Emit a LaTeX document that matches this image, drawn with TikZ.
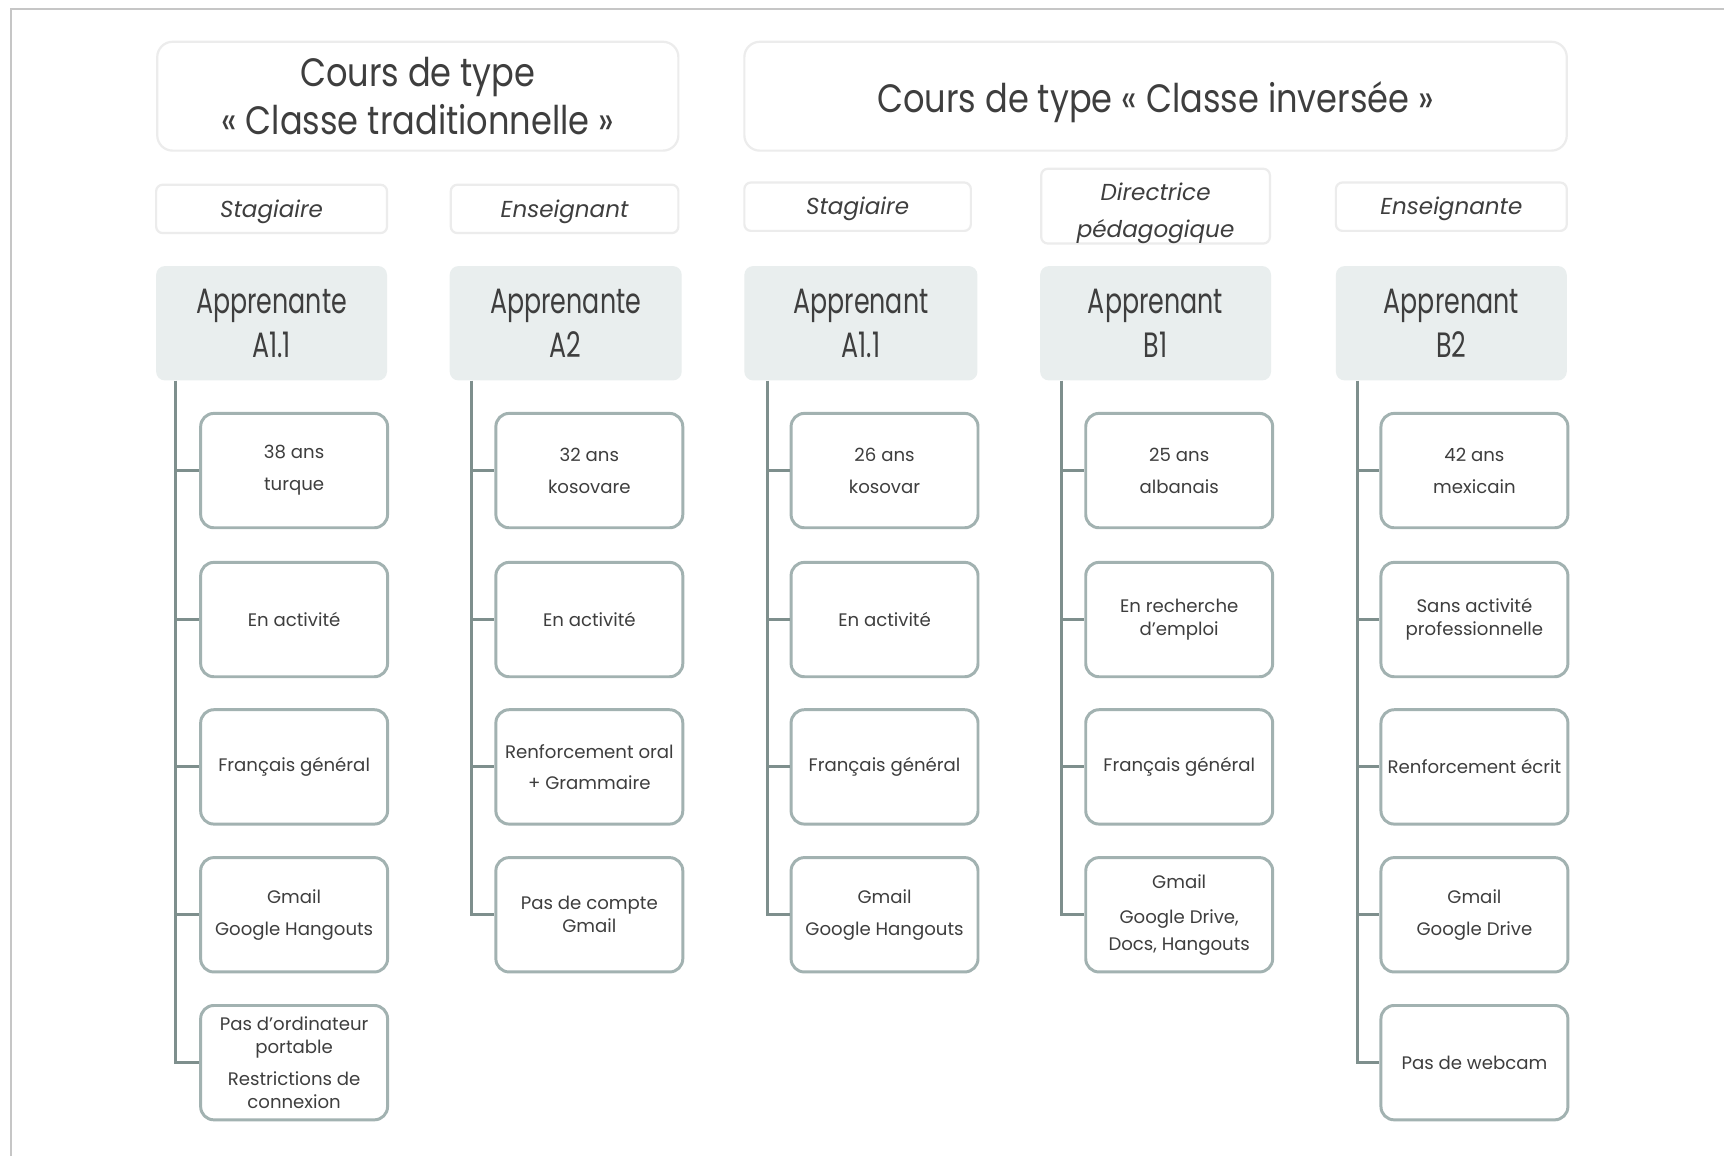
\documentclass[tikz,border=0pt]{standalone}
\usepackage{fontspec}
\setmainfont{Poppins}
\newfontfamily\narrowfont{Poppins}[FakeStretch=0.72]
\newfontfamily\titlefont{Poppins}[FakeStretch=0.85]
\definecolor{txt}{HTML}{3E3E3E}
\definecolor{lightborder}{HTML}{ECECEC}
\definecolor{learnfill}{HTML}{E9EEEE}
\definecolor{childborder}{HTML}{A2B2B1}
\definecolor{treecol}{HTML}{7E8F8D}
\definecolor{framecol}{HTML}{C6C6C6}
\newcommand{\dn}[2]{\raisebox{-#1}[\height][\depth]{#2}}
\tikzset{
  x=1pt, y=-1pt,
  titlebox/.style={draw=lightborder, line width=2pt, rounded corners=14pt, fill=white, text=txt, align=center, inner sep=0pt, font=\titlefont\fontsize{36}{44}\selectfont},
  rolebox/.style={draw=lightborder, line width=2pt, rounded corners=6pt, fill=white, text=txt, align=center, inner sep=0pt, font=\itshape\fontsize{21}{34}\selectfont},
  learnbox/.style={fill=learnfill, rounded corners=8pt, text=txt, align=center, inner sep=0pt, minimum width=210pt, minimum height=104pt, font=\narrowfont\fontsize{32}{40}\selectfont},
  childbox/.style={draw=childborder, line width=2.7pt, rounded corners=12pt, fill=white, text=txt, align=center, inner sep=0pt, minimum width=170pt, minimum height=104pt, font=\fontsize{16.5}{21}\selectfont},
  tree/.style={draw=treecol, line width=2.7pt},
}
\begin{document}
\begin{tikzpicture}
\useasboundingbox (0,0) rectangle (1568,1051.4);
\fill[white] (0,0) rectangle (1568,1051.4);
% frame lines
\coordinate (ftl) at (10,8);
\coordinate (ftr) at (1568,8);
\coordinate (fbl) at (10,1051.4);
\draw[framecol, line width=2.3pt] (fbl) -- (ftl) -- (ftr);

% titles
\node[titlebox, minimum width=474pt, minimum height=99pt] (T1) at (380,87.5) {Cours de type\\« Classe traditionnelle »};
\node[titlebox, minimum width=748pt, minimum height=99pt] (T2) at (1051,87.5) {\dn{5pt}{Cours de type « Classe inversée »}};

% roles
\node[rolebox, minimum width=210pt, minimum height=44pt] (R1) at (247,190) {\dn{3pt}{Stagiaire}};
\node[rolebox, minimum width=207pt, minimum height=44pt] (R2) at (513.5,190) {\dn{3pt}{Enseignant}};
\node[rolebox, minimum width=206pt, minimum height=44pt] (R3) at (780,188) {\dn{2pt}{Stagiaire}};
\node[rolebox, minimum width=208pt, minimum height=65pt] (R4) at (1051,187.5) {\dn{5pt}{\begin{tabular}{@{}c@{}}Directrice\\pédagogique\end{tabular}}};
\node[rolebox, minimum width=210pt, minimum height=44pt] (R5) at (1320,188) {\dn{2pt}{Enseignante}};

% learners
\node[learnbox] (L1) at (247,294) {Apprenante\\A1.1};
\node[learnbox, minimum width=211pt] (L2) at (514.5,294) {Apprenante\\A2};
\node[learnbox, minimum width=212pt] (L3) at (783,294) {Apprenant\\A1.1};
\node[learnbox] (L4) at (1051,294) {Apprenant\\B1};
\node[learnbox] (L5) at (1320,294) {Apprenant\\B2};

% column 1
\node[childbox] (c11) at (267.5,428) {38 ans\\[8pt]turque};
\node[childbox] (c12) at (267.5,563.5) {En activité};
\node[childbox] (c13) at (267.5,697.5) {Français général};
\node[childbox] (c14) at (267.5,832) {Gmail\\[8pt]Google Hangouts};
\node[childbox] (c15) at (267.5,966.5) {Pas d’ordinateur\\portable\\[8pt]Restrictions de\\connexion};
% column 2
\node[childbox] (c21) at (536,428) {32 ans\\[8pt]kosovare};
\node[childbox] (c22) at (536,563.5) {En activité};
\node[childbox] (c23) at (536,697.5) {Renforcement oral\\[7pt]+ Grammaire};
\node[childbox] (c24) at (536,832) {Pas de compte\\Gmail};
% column 3
\node[childbox] (c31) at (804.5,428) {26 ans\\[8pt]kosovar};
\node[childbox] (c32) at (804.5,563.5) {En activité};
\node[childbox] (c33) at (804.5,697.5) {Français général};
\node[childbox] (c34) at (804.5,832) {Gmail\\[8pt]Google Hangouts};
% column 4
\node[childbox] (c41) at (1072.5,428) {25 ans\\[8pt]albanais};
\node[childbox] (c42) at (1072.5,563.5) {En recherche\\d’emploi};
\node[childbox] (c43) at (1072.5,697.5) {Français général};
\node[childbox] (c44) at (1072.5,832) {Gmail\\[11pt]Google Drive,\\[3pt]Docs, Hangouts};
% column 5
\node[childbox] (c51) at (1341,428) {42 ans\\[8pt]mexicain};
\node[childbox] (c52) at (1341,563.5) {Sans activité\\professionnelle};
\node[childbox] (c53) at (1341,697.5) {Renforcement écrit};
\node[childbox] (c54) at (1341,832) {Gmail\\[8pt]Google Drive};
\node[childbox] (c55) at (1341,966.5) {Pas de webcam};

% tree connectors
\coordinate (v1) at ([xshift=18pt]L1.south west);
\coordinate (v2) at ([xshift=20pt]L2.south west);
\coordinate (v3) at ([xshift=21pt]L3.south west);
\coordinate (v4) at ([xshift=20pt]L4.south west);
\coordinate (v5) at ([xshift=20pt]L5.south west);

\draw[tree] (v1) |- (c15.west);
\foreach \k in {1,2,3,4} \draw[tree] (v1 |- c1\k.west) -- (c1\k.west);
\draw[tree] (v2) |- (c24.west);
\foreach \k in {1,2,3} \draw[tree] (v2 |- c2\k.west) -- (c2\k.west);
\draw[tree] (v3) |- (c34.west);
\foreach \k in {1,2,3} \draw[tree] (v3 |- c3\k.west) -- (c3\k.west);
\draw[tree] (v4) |- (c44.west);
\foreach \k in {1,2,3} \draw[tree] (v4 |- c4\k.west) -- (c4\k.west);
\draw[tree] (v5) |- (c55.west);
\foreach \k in {1,2,3,4} \draw[tree] (v5 |- c5\k.west) -- (c5\k.west);
\end{tikzpicture}
\end{document}
